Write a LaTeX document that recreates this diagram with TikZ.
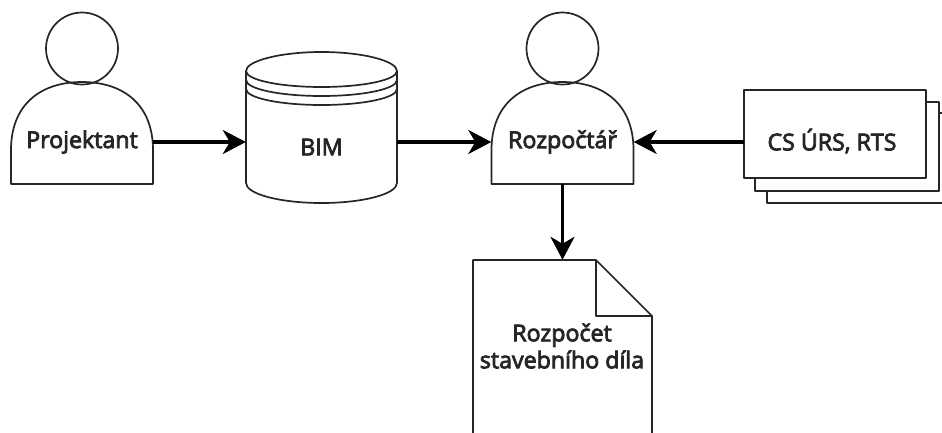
\documentclass[tikz,border=0pt]{standalone}
\usepackage{fontspec}
\setmainfont[RawFeature={embolden=3.4}]{Open Sans}
\usetikzlibrary{arrows.meta}
\tikzset{
  shapeline/.style={line width=1.7pt,line join=round,draw=black!85},
  conn/.style={line width=3.4pt,-{Stealth[length=23pt,width=24pt,inset=7pt]}},
  caption/.style={inner sep=0pt,font=\fontsize{23.2}{27}\selectfont,text=black!85,align=center}
}
\begin{document}
\begin{tikzpicture}[x=1pt,y=-1pt]
    \useasboundingbox (0,0) rectangle (942,432);
    \clip (0,0) rectangle (942,432);
    % two persons, head and body
    \foreach \cx in {82,562.5} {
      \draw[shapeline] (\cx,48.5) circle[radius=36pt];
      \draw[shapeline] (\cx-71,184) -- (\cx-71,150)
        .. controls (\cx-71,105) and (\cx-42,82) .. (\cx,82)
        .. controls (\cx+42,82) and (\cx+71,105) .. (\cx+71,150)
        -- (\cx+71,184) -- cycle;
    }
    % database
    \draw[shapeline] (246,71) .. controls (246,61) and (280,52) .. (321.5,52)
      .. controls (363,52) and (397,61) .. (397,71) -- (397,183)
      .. controls (397,194) and (363,203) .. (321.5,203)
      .. controls (280,203) and (246,194) .. (246,183) -- cycle;
    \foreach \ya in {71,80,89}
      \draw[shapeline] (246,\ya) .. controls (246,\ya+9) and (280,\ya+16) .. (321.5,\ya+16)
        .. controls (363,\ya+16) and (397,\ya+9) .. (397,\ya);
    % stack of sheets, back to front
    \draw[shapeline,fill=white] (767,113) rectangle (960,203);
    \draw[shapeline,fill=white] (755,102) rectangle (939,191);
    \draw[shapeline,fill=white] (744,90) rectangle (926,178);
    % document with folded corner
    \draw[shapeline] (473,445) -- (473,260) -- (596,260) -- (652,316) -- (652,445);
    \draw[shapeline] (596,260) -- (596,316) -- (652,316);
    % labels
    \node[caption,minimum width=142pt] (projektant) at (82,142) {Projektant};
    \node[caption,minimum width=151pt] (bim) at (321.5,147) {BIM};
    \node[caption,minimum width=142pt,minimum height=84pt] (rozpoctar) at (562.5,142) {Rozpočtář};
    \node[caption,minimum width=176pt] (normy) at (832,141) {CS ÚRS, RTS};
    \node[caption,minimum width=179pt,minimum height=172pt] (rozpocet) at (562,346) {Rozpočet\\stavebního díla};
    % connectors
    \draw[conn] (projektant.east) -- (bim.west |- projektant.east);
    \draw[conn] (bim.east |- rozpoctar.west) -- (rozpoctar.west);
    \draw[conn] (normy.west |- rozpoctar.east) -- (rozpoctar.east);
    \draw[conn] (rozpoctar.south) -- (rozpoctar.south |- rozpocet.north);
\end{tikzpicture}
\end{document}
